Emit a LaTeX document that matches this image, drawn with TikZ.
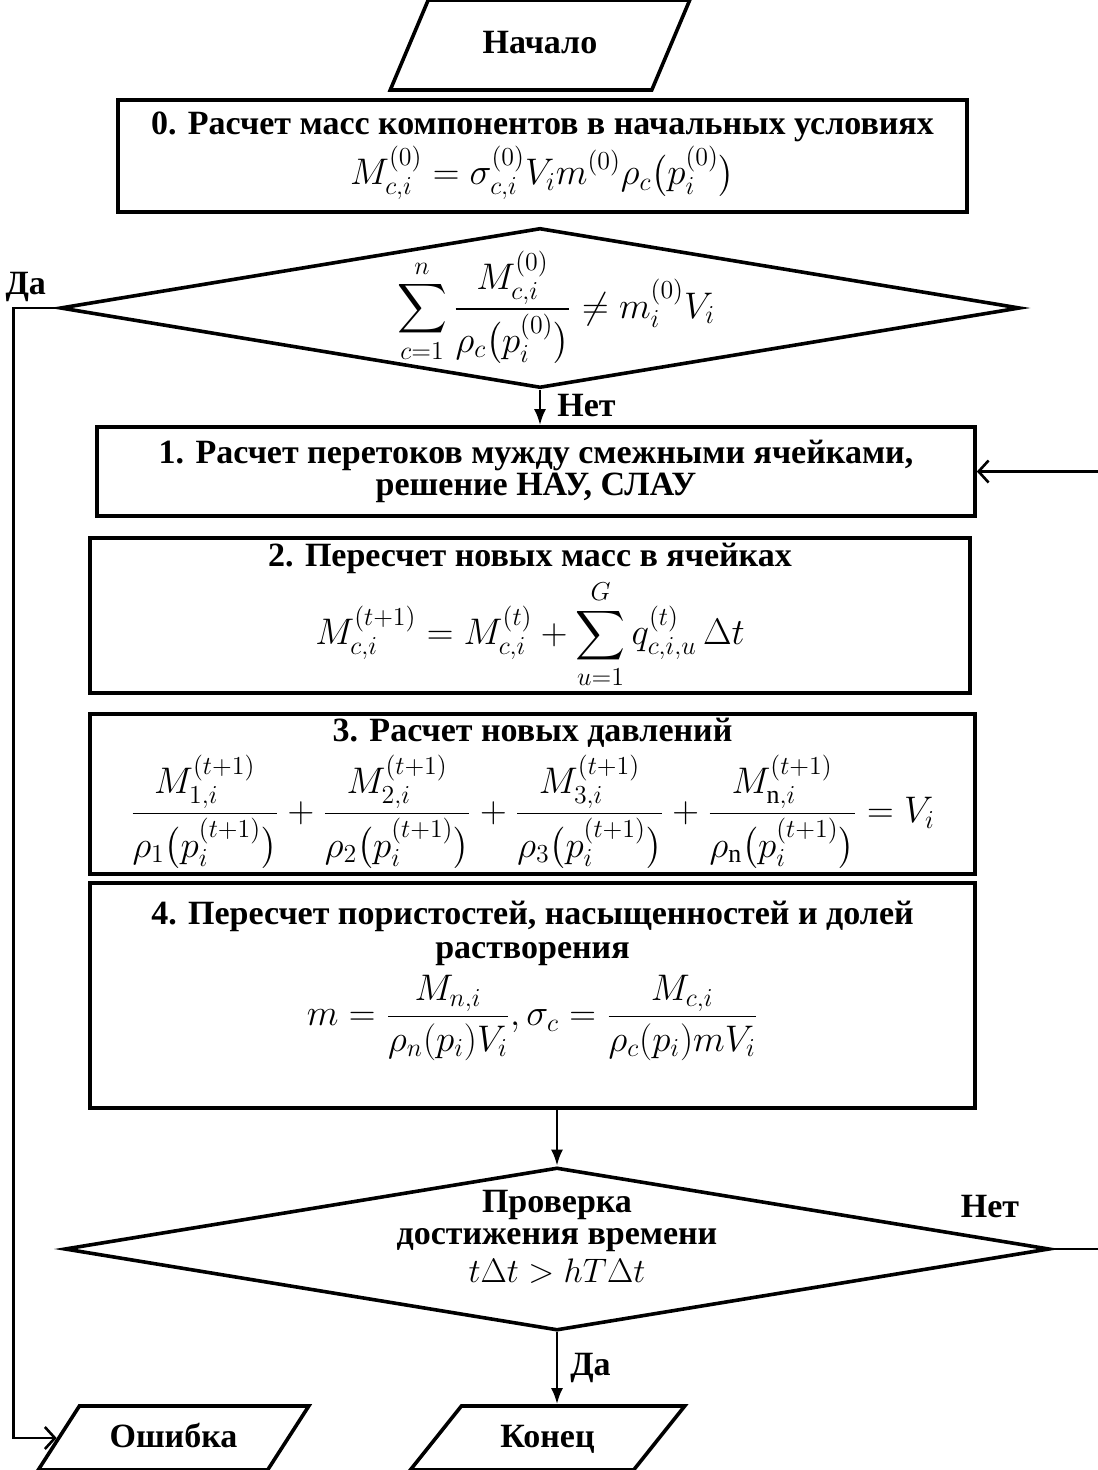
\RequirePackage{fix-cm}
\documentclass[tikz,border=0pt]{standalone}
\usepackage{amsmath}
\usepackage{fontspec}
\setmainfont{Liberation Serif}
\usetikzlibrary{arrows.meta,calc,positioning,shapes.geometric}
\newcommand{\fml}[1]{{\fontsize{18.5}{22}\selectfont$\displaystyle #1$}}

\begin{document}
\begin{tikzpicture}[x=0.5pt,y=-0.5pt,
  font=\fontsize{17}{20}\selectfont\bfseries,
  blok/.style={draw,line width=1.8pt,align=center,inner sep=2pt},
  vvod/.style={draw,line width=1.8pt,trapezium,trapezium stretches,inner sep=0pt,
    minimum height=32pt,text height=12pt,text depth=3pt},
  uslovie/.style={draw,line width=1.8pt,diamond,inner sep=0pt},
  strelka/.style={line width=1.3pt,-{Latex[length=8pt,width=6pt]}},
  vozvrat/.style={line width=1.3pt,-{Straight Barb[length=5pt,width=11pt]}},
  metka/.style={inner sep=0pt}]
  \useasboundingbox (0,0) rectangle (1097,1470);

  % nachalo i blok 0
  \node[vvod,trapezium left angle=57,trapezium right angle=123,
    minimum width=150pt,minimum height=45pt] (start) at (540,45) {Начало};
  \node[blok,minimum width=424.5pt,minimum height=56pt] (b0) at (542.5,156)
    {0. Расчет масс компонентов в начальных условиях\\[1pt]
     \fml{M^{(0)}_{c,i} = \sigma^{(0)}_{c,i}V_i m^{(0)}\rho_c\bigl(p^{(0)}_i\bigr)}};

  % proverka massy
  \node[uslovie,minimum width=480pt,minimum height=80pt,
    label={[xshift=8pt]center:{\fml{\sum_{c=1}^{n}
      \frac{M^{(0)}_{c,i}}{\rho_c\bigl(p^{(0)}_i\bigr)} \neq m^{(0)}_i V_i}}}]
    (d0) at (540,308) {};

  % bloki 1--4
  \node[blok,minimum width=439pt,minimum height=44.5pt] (b1) at (536,471.5)
    {1. Расчет перетоков мужду смежными ячейками,\\[-4pt]
     решение НАУ, СЛАУ};
  \node[blok,minimum width=440pt,minimum height=77.5pt] (b2) at (530,615.5)
    {\mbox{}\\[-8pt]
     2. Пересчет новых масс в ячейках\\[2pt]
     \fml{M^{(t+1)}_{c,i} = M^{(t)}_{c,i} + \sum_{u=1}^{G} q^{(t)}_{c,i,u}\,\Delta t}};
  \node[blok,minimum width=442.5pt,minimum height=79pt] (b3) at (532.5,794)
    {3. Расчет новых давлений\\[3pt]
     \fml{\frac{M^{(t+1)}_{1,i}}{\rho_1\bigl(p^{(t+1)}_i\bigr)}
      +\frac{M^{(t+1)}_{2,i}}{\rho_2\bigl(p^{(t+1)}_i\bigr)}
      +\frac{M^{(t+1)}_{3,i}}{\rho_3\bigl(p^{(t+1)}_i\bigr)}
      +\frac{M^{(t+1)}_{\mathrm{n},i}}{\rho_{\mathrm{n}}\bigl(p^{(t+1)}_i\bigr)}=V_i}};
  \node[blok,minimum width=442.5pt,minimum height=112.5pt] (b4) at (532.5,995.5)
    {4. Пересчет пористостей, насыщенностей и долей\\[-3pt]
     растворения\\[4pt]
     \fml{m=\frac{M_{n,i}}{\rho_n(p_i)V_i},\sigma_c=\frac{M_{c,i}}{\rho_c(p_i)mV_i}}\\[12pt]
     \mbox{}};

  % proverka vremeni
  \node[uslovie,minimum width=492.5pt,minimum height=81.5pt,
    label={[align=center,yshift=6pt,font=\fontsize{17}{16}\selectfont\bfseries]
      center:{Проверка\\достижения времени\\[3pt]
      $t\Delta t > hT\Delta t$}}]
    (d1) at (557,1249) {};

  % konec i oshibka
  \node[vvod,trapezium left angle=47,trapezium right angle=133,
    minimum width=136.5pt] (err) at (173.5,1438) {Ошибка};
  \node[vvod,trapezium left angle=47,trapezium right angle=133,
    minimum width=137.5pt] (fin) at (547.5,1438) {Конец};

  % strelki
  \draw[strelka] (d0.south) -- (d0.south |- b1.north)
    node[metka,pos=0.45,right=8pt] {Нет};
  \draw[vozvrat] (d0.west) -- ++(-45,0) coordinate (levo) |- (err.west);
  \node[metka,above right=3pt and -4pt] at (levo) {Да};
  \draw[strelka] (d1.north |- b4.south) -- (d1.north);
  \draw[vozvrat] (d1.east) -- ++(52,0) |- (b1.east);
  \node[metka] at (990,1207) {Нет};
  \draw[strelka] (d1.south) -- (d1.south |- fin.north)
    node[metka,pos=0.5,right=6pt] {Да};
\end{tikzpicture}
\end{document}
